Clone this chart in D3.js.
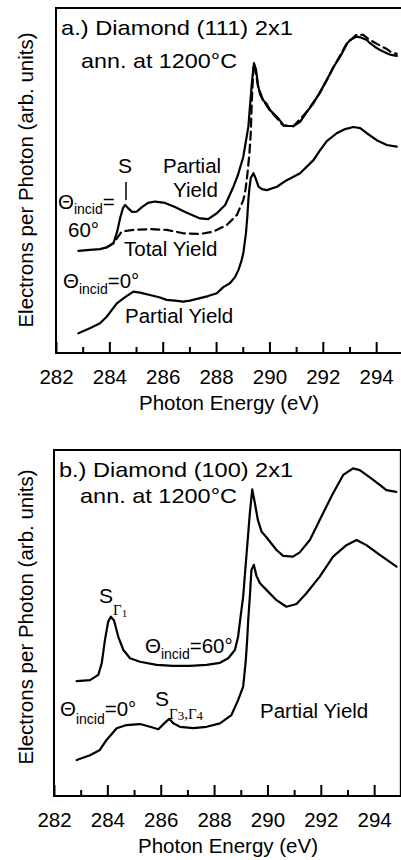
<!DOCTYPE html>
<html>
<head>
<meta charset="utf-8">
<script src="https://cdn.jsdelivr.net/npm/d3@7"></script>
<style>
  html, body { margin: 0; padding: 0; background: #fff; }
  svg { display: block; }
  text { font-family: "Liberation Sans", Arial, Helvetica, sans-serif; fill: #000; }
</style>
</head>
<body>
<svg id="chart" width="401" height="860"></svg>
<script>
// ---------------- DATA ----------------
// Photon energy (eV) axis
const xDomain = [282, 295];
const majorTicks = [282, 284, 286, 288, 290, 292, 294];
const minorTicks = [283, 285, 287, 289, 291, 293];

// Panel a: Diamond (111) 2x1 — [energy eV, signal arb. units]
const a60Partial = [
  [282.84,29.6],[283.27,29.9],[283.65,30.1],[283.9,30.6],[284.15,31.8],[284.29,35.1],[284.4,39.0],
  [284.51,42.0],[284.59,42.9],[284.7,42.0],[284.85,40.9],[285.03,41.0],[285.22,42.3],[285.45,43.5],
  [285.71,43.9],[286.09,43.5],[286.46,42.3],[286.84,40.9],[287.4,39.0],[287.7,38.8],[288.03,40.5],
  [288.34,42.9],[288.65,48.2],[288.82,51.6],[289.02,56.9],[289.21,65.6],[289.34,78.2],[289.42,84.0],
  [289.5,82.0],[289.57,77.7],[289.65,74.9],[289.76,73.3],[289.9,72.2],[290.02,70.4],[290.28,68.5],
  [290.52,66.1],[290.7,65.8],[290.9,65.8],[291.15,67.0],[291.4,69.9],[291.65,72.4],[291.9,75.7],
  [292.15,79.1],[292.4,82.9],[292.65,85.9],[292.9,89.6],[293.02,90.7],[293.27,91.7],[293.4,91.5],
  [293.65,90.7],[293.77,89.8],[293.96,88.7],[294.15,87.8],[294.4,86.9],[294.56,86.4],[294.77,86.1]
];
const a60Total = [
  [283.9,30.6],[284.15,31.8],[284.29,33.3],[284.46,35.2],[284.9,35.7],[285.52,35.9],[286.15,35.7],
  [286.77,34.7],[287.4,34.5],[287.9,35.2],[288.4,37.1],[288.78,40.0],[289.02,44.3],[289.1,47.2],
  [289.17,51.6],[289.25,57.9],[289.3,63.8],[289.34,73.3],[289.4,82.6],[289.44,83.8],[289.57,77.4],
  [289.76,73.3],[290.02,70.3],[290.52,65.9],[290.9,65.7],[291.4,69.9],[291.9,75.5],[292.4,82.8],
  [292.9,89.7],[293.27,92.3],[293.51,92.2],[293.77,90.7],[294.15,89.1],[294.4,88.1],[294.56,87.2],
  [294.77,86.7]
];
const a0Partial = [
  [282.84,5.7],[283.27,7.2],[283.65,8.6],[283.9,10.5],[284.28,14.4],[284.59,16.2],[284.9,17.8],
  [285.15,17.5],[285.52,16.8],[285.9,16.1],[286.15,15.4],[286.46,15.2],[286.77,14.9],[287.02,15.2],
  [287.4,15.9],[287.7,16.5],[288.03,17.3],[288.27,19.1],[288.52,20.2],[288.71,22.0],[288.84,24.1],
  [288.94,26.4],[289.02,28.9],[289.12,34.7],[289.17,39.5],[289.21,44.3],[289.25,47.8],[289.3,50.7],
  [289.4,52.1],[289.48,50.7],[289.59,48.2],[289.72,47.5],[289.9,47.2],[290.28,48.2],[290.65,50.1],
  [291.15,52.1],[291.65,55.9],[291.9,58.8],[292.15,61.4],[292.52,63.7],[292.84,64.9],[293.15,65.5],
  [293.4,65.2],[293.65,63.7],[294.02,61.7],[294.4,60.3],[294.77,59.8]
];

// Panel b: Diamond (100) 2x1
const b60Partial = [
  [282.85,33.2],[283.35,33.5],[283.66,35.0],[283.79,38.4],[283.91,45.1],[284.03,50.4],[284.13,51.8],
  [284.25,50.7],[284.41,46.0],[284.6,42.2],[284.85,39.8],[285.22,38.8],[285.85,37.9],[286.47,37.6],
  [287.09,37.6],[287.72,37.9],[288.22,38.5],[288.53,39.8],[288.78,42.2],[288.9,46.0],[289.0,52.3],
  [289.09,57.6],[289.24,72.1],[289.34,81.7],[289.43,88.6],[289.53,84.6],[289.64,79.8],[289.78,76.4],
  [289.97,74.7],[290.34,71.1],[290.59,69.4],[290.96,69.2],[291.21,70.4],[291.59,74.0],[291.96,79.8],
  [292.46,87.5],[292.84,92.8],[293.21,94.7],[293.46,94.2],[293.84,92.1],[294.21,89.9],[294.46,88.4],
  [294.83,87.9]
];
const b0Partial = [
  [282.85,10.4],[283.35,11.8],[283.72,13.3],[283.97,16.2],[284.35,19.6],[284.72,20.5],[285.22,20.8],
  [285.6,20.0],[285.91,19.3],[286.16,21.2],[286.32,22.3],[286.47,21.0],[286.72,20.0],[287.22,19.6],
  [287.72,20.0],[288.22,21.0],[288.65,23.4],[288.9,27.7],[289.09,31.6],[289.19,39.3],[289.24,45.1],
  [289.28,50.9],[289.34,57.6],[289.4,65.3],[289.49,66.8],[289.59,63.6],[289.72,61.5],[289.97,59.5],
  [290.34,56.6],[290.71,54.7],[291.09,55.5],[291.46,58.6],[291.96,63.4],[292.46,69.2],[292.96,72.5],
  [293.34,74.0],[293.71,72.5],[294.21,69.7],[294.84,66.3]
];

// Text
const titlesA = ["a.) Diamond (111) 2x1", "ann. at 1200°C"];
const titlesB = ["b.) Diamond (100) 2x1", "ann. at 1200°C"];
const xTitle = "Photon Energy (eV)";
const yTitle = "Electrons per Photon (arb. units)";

// ---------------- DRAWING ----------------
const svg = d3.select("#chart");
const FS = 20.5;

function panel(cfg) {
  const g = svg.append("g");
  const x = d3.scaleLinear().domain(xDomain).range([cfg.left, cfg.left + 13 * 26.68]);
  const y = d3.scaleLinear().domain([0, 100]).range([cfg.bottom, cfg.top]);

  // frame
  g.append("rect")
    .attr("x", cfg.left).attr("y", cfg.top)
    .attr("width", x(xDomain[1]) - cfg.left)
    .attr("height", cfg.bottom - cfg.top)
    .attr("fill", "none").attr("stroke", "#000").attr("stroke-width", 2);

  // major ticks + labels
  const ax = d3.axisBottom(x).tickValues(majorTicks).tickSizeInner(-11).tickSizeOuter(0).tickPadding(16)
    .tickFormat(d3.format("d"));
  const axg = g.append("g").attr("transform", `translate(0,${cfg.bottom})`).call(ax);
  axg.select(".domain").remove();
  axg.selectAll(".tick line").attr("stroke", "#000").attr("stroke-width", 2);
  axg.selectAll(".tick text").style("font-size", FS + "px").style("font-family", '"Liberation Sans", Arial, sans-serif').attr("fill", "#000");
  // minor ticks
  const mx = d3.axisBottom(x).tickValues(minorTicks).tickSizeInner(-6).tickSizeOuter(0).tickFormat("");
  const mg = g.append("g").attr("transform", `translate(0,${cfg.bottom})`).call(mx);
  mg.select(".domain").remove();
  mg.selectAll(".tick line").attr("stroke", "#000").attr("stroke-width", 2);

  // axis titles
  g.append("text").attr("x", (cfg.left + 401) / 2 + 0.5).attr("y", cfg.bottom + 57)
    .attr("text-anchor", "middle").style("font-size", FS + "px").text(xTitle);
  g.append("text").attr("transform", `translate(33,${cfg.ymid}) rotate(-90)`)
    .attr("text-anchor", "middle").style("font-size", FS + "px").text(yTitle);

  const line = d3.line().x(d => x(d[0])).y(d => y(d[1]));
  cfg.series.forEach(s => {
    g.append("path").datum(s.data).attr("d", line)
      .attr("fill", "none").attr("stroke", "#000").attr("stroke-width", 2.2)
      .attr("stroke-linejoin", "round").attr("stroke-linecap", "round")
      .attr("stroke-dasharray", s.dash || null);
  });

  // titles
  cfg.titles.forEach((t, i) => {
    g.append("text").attr("x", cfg.titlePos[i][0]).attr("y", cfg.titlePos[i][1])
      .style("font-size", "21px")
      .attr("textLength", cfg.titlePos[i][2]).attr("lengthAdjust", "spacingAndGlyphs")
      .text(t);
  });
  return g;
}

function theta(g, xx, yy, rest, sub) {
  const t = g.append("text").attr("x", xx).attr("y", yy).style("font-size", FS + "px");
  t.append("tspan").text("Θ");
  t.append("tspan").attr("dy", sub).style("font-size", "14px").text("incid");
  t.append("tspan").attr("dy", -sub).text(rest);
  return t;
}
function plain(g, xx, yy, s) {
  return g.append("text").attr("x", xx).attr("y", yy).style("font-size", FS + "px").text(s);
}

// Panel a
const ga = panel({
  left: 56, top: 8, bottom: 353, ymid: 180,
  titles: titlesA, titlePos: [[61, 35, 232], [81, 68, 156]],
  series: [{data: a60Partial}, {data: a60Total, dash: "8,5"}, {data: a0Partial}]
});
ga.append("text").attr("x", 118).attr("y", 173).style("font-size", "21px").text("S");
ga.append("line").attr("x1", 126).attr("x2", 126).attr("y1", 182).attr("y2", 200)
  .attr("stroke", "#000").attr("stroke-width", 1.5);
plain(ga, 163, 173, "Partial");
plain(ga, 173, 197, "Yield");
theta(ga, 58, 209, "=", 5);
plain(ga, 68, 237, "60°");
plain(ga, 124, 256, "Total Yield");
theta(ga, 63, 288, "=0°", 6);
plain(ga, 125, 323, "Partial Yield");

// Panel b
const gb = panel({
  left: 54, top: 450, bottom: 796, ymid: 617,
  titles: titlesB, titlePos: [[59, 477, 234], [80, 503, 157]],
  series: [{data: b60Partial}, {data: b0Partial}]
});
{
  const t = gb.append("text").attr("x", 99).attr("y", 603).style("font-size", "21px");
  t.append("tspan").text("S");
  t.append("tspan").attr("dy", 12).style("font-size", "15px")
    .style("font-family", '"Liberation Serif", "DejaVu Serif", serif').text("Γ");
  t.append("tspan").attr("dy", 2).style("font-size", "11px")
    .style("font-family", '"Liberation Serif", "DejaVu Serif", serif').text("1");
}
theta(gb, 145, 653, "=60°", 6);
{
  const t = gb.append("text").attr("x", 155).attr("y", 706).style("font-size", "21px");
  t.append("tspan").text("S");
  t.append("tspan").attr("dy", 13).style("font-size", "15px")
    .style("font-family", '"Liberation Serif", "DejaVu Serif", serif').text("Γ");
  t.append("tspan").attr("dy", 1).style("font-size", "13px")
    .style("font-family", '"Liberation Serif", "DejaVu Serif", serif').text("3");
  t.append("tspan").attr("dy", -1).style("font-size", "15px")
    .style("font-family", '"Liberation Serif", "DejaVu Serif", serif').text(",Γ");
  t.append("tspan").attr("dy", 1).style("font-size", "13px")
    .style("font-family", '"Liberation Serif", "DejaVu Serif", serif').text("4");
}
theta(gb, 60, 716, "=0°", 8);
plain(gb, 260, 718, "Partial Yield");
</script>
</body>
</html>
